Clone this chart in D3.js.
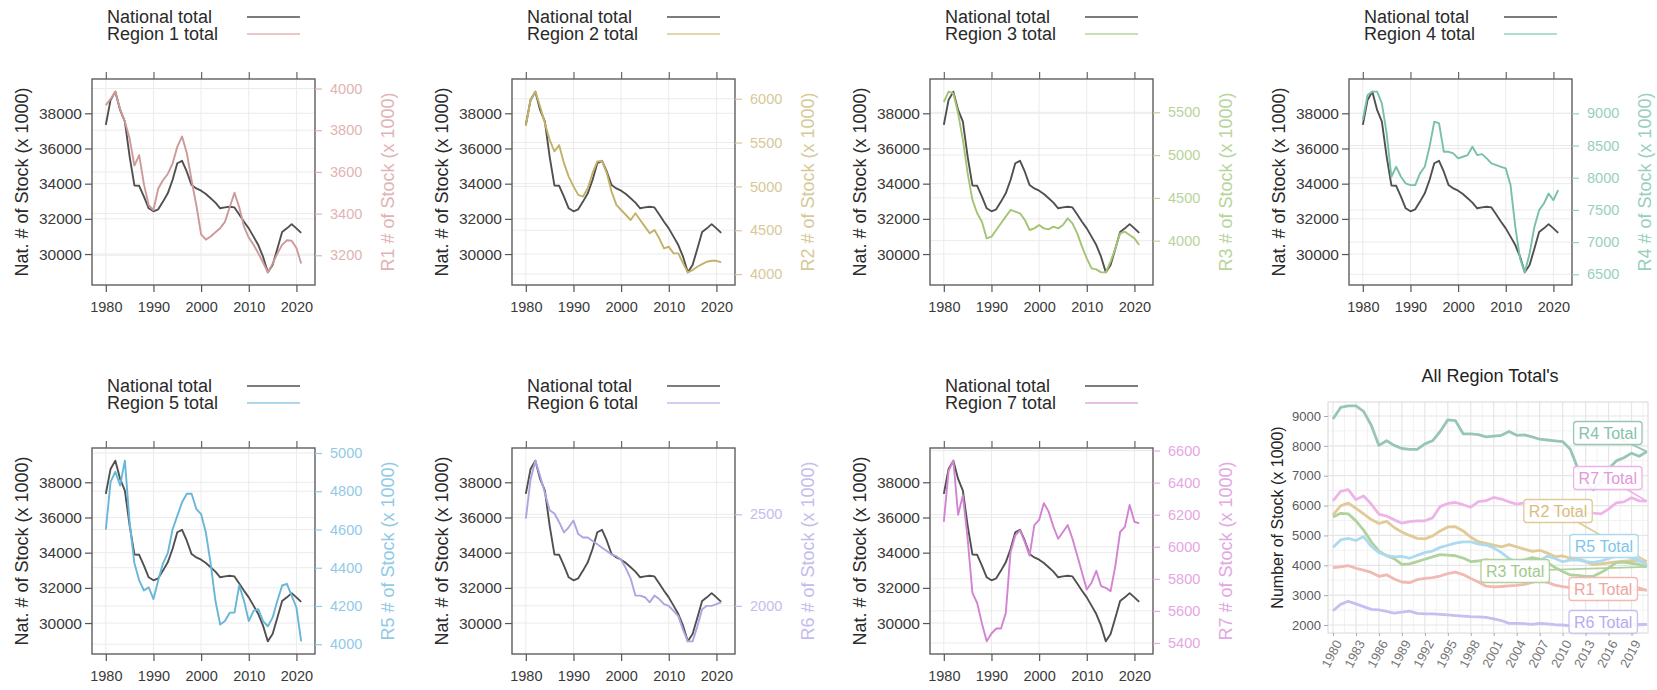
<!DOCTYPE html>
<html>
<head>
<meta charset="utf-8">
<script src="https://cdn.jsdelivr.net/npm/d3@7"></script>
<style>
  body { margin: 0; background: #fff; }
  svg { display: block; font-family: "Liberation Sans", Arial, Helvetica, sans-serif; }
  svg text { font-family: "Liberation Sans", Arial, Helvetica, sans-serif; }
</style>
</head>
<body>
<svg id="chart" width="1657" height="690"></svg>
<script>
// ---- data: stock counts (x 1000), yearly 1980-2021 ----
const years = [1980,1981,1982,1983,1984,1985,1986,1987,1988,1989,
               1990,1991,1992,1993,1994,1995,1996,1997,1998,1999,
               2000,2001,2002,2003,2004,2005,2006,2007,2008,2009,
               2010,2011,2012,2013,2014,2015,2016,2017,2018,2019,
               2020,2021];

const national = [37340,38760,39230,38190,37530,35540,33900,33880,33260,32600,
                  32430,32540,32980,33450,34210,35160,35300,34680,33920,33730,
                  33600,33410,33170,32920,32600,32650,32690,32650,32250,31840,
                  31460,30990,30510,29850,28960,29380,30300,31250,31460,31700,
                  31460,31200];

const region1 = [3920,3950,3985,3900,3840,3760,3630,3680,3540,3440,
                 3417,3520,3560,3590,3640,3720,3770,3690,3560,3440,
                 3300,3275,3290,3310,3330,3360,3430,3500,3430,3337,
                 3285,3250,3210,3165,3118,3160,3208,3250,3272,3270,
                 3235,3160];
const region2 = [5690,5990,6080,5910,5720,5530,5400,5470,5265,5112,
                 5000,4903,4884,4979,5150,5284,5291,5150,4941,4789,
                 4731,4674,4617,4693,4617,4541,4465,4503,4408,4293,
                 4312,4236,4236,4122,4020,4046,4084,4114,4141,4152,
                 4152,4133];
const region3 = [5620,5741,5722,5488,5177,4787,4476,4320,4222,4027,
                 4047,4125,4203,4281,4359,4339,4320,4242,4125,4144,
                 4183,4144,4132,4164,4144,4183,4261,4203,4086,3930,
                 3794,3677,3665,3630,3630,3755,3910,4086,4105,4066,
                 4027,3949];
const region4 = [8900,9285,9337,9337,9156,8689,8015,8170,8015,7911,
                 7885,7885,8067,8170,8481,8870,8844,8403,8403,8378,
                 8300,8326,8352,8481,8352,8367,8300,8222,8196,8170,
                 8144,7885,7236,6744,6530,6822,7236,7496,7600,7755,
                 7651,7807];
const region5 = [4600,4849,4902,4830,4960,4636,4423,4334,4281,4298,
                 4236,4334,4423,4476,4600,4671,4742,4787,4787,4707,
                 4680,4583,4423,4227,4103,4121,4165,4165,4307,4227,
                 4121,4174,4183,4121,4094,4139,4227,4307,4316,4254,
                 4192,4015];
const region6 = [2476,2690,2793,2709,2616,2522,2504,2457,2401,2429,
                 2466,2392,2373,2373,2354,2336,2317,2299,2280,2271,
                 2252,2205,2149,2056,2056,2047,2019,2056,2037,2009,
                 2000,1972,1944,1869,1806,1806,1888,1981,2000,2000,
                 2009,2019];
const region7 = [6156,6473,6537,6200,6320,6050,5712,5649,5522,5410,
                 5459,5490,5490,5586,5966,6071,6103,6029,5945,6135,
                 6167,6272,6219,6124,6050,6092,6135,6050,5945,5839,
                 5733,5776,5850,5755,5744,5723,5881,6092,6124,6261,
                 6156,6146];

const regions = [region1, region2, region3, region4, region5, region6, region7];

// ---- labels and tick values ----
const legendNational = "National total";
const legendRegion = ["Region 1 total","Region 2 total","Region 3 total","Region 4 total",
                      "Region 5 total","Region 6 total","Region 7 total"];
const leftTitle = "Nat. # of Stock (x 1000)";
const rightTitles = ["R1 # of Stock (x 1000)","R2 # of Stock (x 1000)","R3 # of Stock (x 1000)",
                     "R4 # of Stock (x 1000)","R5 # of Stock (x 1000)","R6 # of Stock (x 1000)",
                     "R7 # of Stock (x 1000)"];
const natTicks = [30000, 32000, 34000, 36000, 38000];
const yearTicks = [1980, 1990, 2000, 2010, 2020];
const regionTicks = [
  [3200, 3400, 3600, 3800, 4000],
  [4000, 4500, 5000, 5500, 6000],
  [4000, 4500, 5000, 5500],
  [6500, 7000, 7500, 8000, 8500, 9000],
  [4000, 4200, 4400, 4600, 4800, 5000],
  [2000, 2500],
  [5400, 5600, 5800, 6000, 6200, 6400, 6600]
];

const summaryTitle = "All Region Total's";
const summaryYTitle = "Number of Stock (x 1000)";
const summaryLabels = ["R1 Total","R2 Total","R3 Total","R4 Total","R5 Total","R6 Total","R7 Total"];
const summaryYTicks = [2000, 3000, 4000, 5000, 6000, 7000, 8000, 9000];
const summaryYearBreaks = [1980,1983,1986,1989,1992,1995,1998,2001,2004,2007,2010,2013,2016,2019];
// label anchors (year, value) for the direct labels on the summary panel
const labelYear  = [2015.3, 2009.4, 2003.8, 2015.9, 2015.4, 2015.3, 2015.9];
const labelValue = [3206,   5818,   3809,   8431,   4646,   2101,   6924];

// ---- colours ----
const nationalColor = "#505050";
const regionLine = ["#cc9a9a","#c2b268","#a4c474","#78c0a8","#68b6d8","#aca6e0","#d283d2"];
const regionText = ["#e0b4b4","#d6c998","#b8d49a","#98d0bd","#92cae6","#c3bdee","#e2a8e2"];
const summaryLine = ["#f2b8b2","#e0cb98","#b0d29c","#98c6b4","#addaee","#c7bff2","#eeb4e8"];
const summaryText = ["#eaa8a2","#d8bc80","#a2c98c","#86c2ac","#7ec6ea","#b6adf0","#e398da"];
const gridColor = "#ebebeb";

const svg = d3.select("#chart");

// ---- layout ----
const colX = [92, 512, 930, 1349];
const rowY = [79, 448];
const W = 223, H = 206;
const xDomain = [1977.1, 2023.9];

function padded(arr) {
  const [lo, hi] = d3.extent(arr);
  const p = (hi - lo) * 0.07;
  return [lo - p, hi + p];
}

const FONT = "'Liberation Sans', Arial, Helvetica, sans-serif";

// ---- seven dual-axis panels ----
regions.forEach((vals, i) => {
  const g = svg.append("g")
    .attr("transform", `translate(${colX[i % 4]},${rowY[Math.floor(i / 4)]})`);

  const x = d3.scaleLinear().domain(xDomain).range([0, W]);
  const yL = d3.scaleLinear().domain(padded(national)).range([H, 0]);
  const yR = d3.scaleLinear().domain(padded(vals)).range([H, 0]);

  // grid
  const grid = g.append("g").attr("stroke", gridColor).attr("stroke-width", 1);
  grid.selectAll(".gv").data(yearTicks).join("line")
    .attr("x1", d => x(d)).attr("x2", d => x(d)).attr("y1", 0).attr("y2", H);
  grid.selectAll(".gl").data(natTicks).join("line")
    .attr("x1", 0).attr("x2", W).attr("y1", d => yL(d)).attr("y2", d => yL(d));
  grid.selectAll(".gr").data(regionTicks[i]).join("line")
    .attr("x1", 0).attr("x2", W).attr("y1", d => yR(d)).attr("y2", d => yR(d));

  // series
  const lineL = d3.line().x((d, j) => x(years[j])).y(d => yL(d));
  const lineR = d3.line().x((d, j) => x(years[j])).y(d => yR(d));
  g.append("path").datum(national).attr("d", lineL)
    .attr("fill", "none").attr("stroke", nationalColor).attr("stroke-width", 1.9)
    .attr("stroke-linejoin", "round");
  g.append("path").datum(vals).attr("d", lineR)
    .attr("fill", "none").attr("stroke", regionLine[i]).attr("stroke-width", 1.9)
    .attr("stroke-linejoin", "round");

  // frame
  g.append("rect").attr("width", W).attr("height", H)
    .attr("fill", "none").attr("stroke", "#5e5e5e").attr("stroke-width", 1.4);

  // axes
  const ax = (sel, col, tcol, size) => {
    sel.select(".domain").remove();
    sel.attr("font-family", FONT);
    sel.selectAll(".tick line").attr("stroke", col).attr("stroke-width", 1.2);
    sel.selectAll(".tick text").attr("fill", tcol).style("font-size", size + "px")
      .style("font-family", FONT);
  };
  g.append("g")
    .call(d3.axisLeft(yL).tickValues(natTicks).tickSize(7).tickPadding(3).tickFormat(d3.format("d")))
    .call(s => ax(s, "#555", "#3a3a3a", 15.5));
  g.append("g").attr("transform", `translate(0,${H})`)
    .call(d3.axisBottom(x).tickValues(yearTicks).tickSize(7).tickPadding(10).tickFormat(d3.format("d")))
    .call(s => ax(s, "#555", "#3a3a3a", 14.5));
  g.append("g")
    .call(d3.axisTop(x).tickValues(yearTicks).tickSize(7).tickFormat(""))
    .call(s => ax(s, "#666", "#666", 14));
  g.append("g").attr("transform", `translate(${W},0)`)
    .call(d3.axisRight(yR).tickValues(regionTicks[i]).tickSize(7).tickPadding(8).tickFormat(d3.format("d")))
    .call(s => ax(s, regionText[i], regionText[i], 14.5));

  // axis titles
  g.append("text").attr("transform", `translate(-70,${H / 2}) rotate(-90)`)
    .attr("text-anchor", "middle").attr("dy", "0.35em").attr("font-family", FONT)
    .style("font-size", "18px").attr("fill", "#2a2a2a").text(leftTitle);
  g.append("text").attr("transform", `translate(${W + 73},${H / 2}) rotate(-90)`)
    .attr("text-anchor", "middle").attr("dy", "0.35em").attr("font-family", FONT)
    .style("font-size", "18px").attr("fill", regionText[i]).text(rightTitles[i]);

  // legend
  const leg = g.append("g").attr("font-family", FONT);
  leg.append("text").attr("x", 15).attr("y", -62).attr("dy", "0.35em")
    .style("font-size", "18px").attr("fill", "#2a2a2a").text(legendNational);
  leg.append("text").attr("x", 15).attr("y", -45).attr("dy", "0.35em")
    .style("font-size", "18px").attr("fill", "#2a2a2a").text(legendRegion[i]);
  leg.append("line").attr("x1", 155).attr("x2", 208).attr("y1", -62).attr("y2", -62)
    .attr("stroke", nationalColor).attr("stroke-width", 1.6);
  leg.append("line").attr("x1", 155).attr("x2", 208).attr("y1", -45).attr("y2", -45)
    .attr("stroke", regionText[i]).attr("stroke-width", 1.6);
});

// ---- summary panel: all region totals ----
(function () {
  const L = 1328, R = 1648, T = 402, B = 633;
  const x = d3.scaleLinear().domain([1979.35, 2021.15]).range([L, R]);
  const y = d3.scaleLinear().domain([1732, 9469]).range([B, T]);
  const g = svg.append("g").attr("font-family", FONT);

  // minor + major grid
  const minorX = summaryYearBreaks.map(d => d + 1.5).filter(d => d < 2021.15);
  const minorY = summaryYTicks.map(d => d + 500).filter(d => d < 9469);
  g.append("g").selectAll("line").data(minorX).join("line")
    .attr("x1", d => x(d)).attr("x2", d => x(d)).attr("y1", T).attr("y2", B)
    .attr("stroke", "#f2f2f2").attr("stroke-width", 1);
  g.append("g").selectAll("line").data(minorY).join("line")
    .attr("x1", L).attr("x2", R).attr("y1", d => y(d)).attr("y2", d => y(d))
    .attr("stroke", "#f2f2f2").attr("stroke-width", 1);
  g.append("g").selectAll("line").data(summaryYearBreaks).join("line")
    .attr("x1", d => x(d)).attr("x2", d => x(d)).attr("y1", T).attr("y2", B)
    .attr("stroke", "#e6e6e6").attr("stroke-width", 1.2);
  g.append("g").selectAll("line").data(summaryYTicks).join("line")
    .attr("x1", L).attr("x2", R).attr("y1", d => y(d)).attr("y2", d => y(d))
    .attr("stroke", "#e6e6e6").attr("stroke-width", 1.2);

  // series
  const line = d3.line().x((d, j) => x(years[j])).y(d => y(d));
  regions.forEach((vals, i) => {
    g.append("path").datum(vals).attr("d", line)
      .attr("fill", "none").attr("stroke", summaryLine[i]).attr("stroke-width", 2.8)
      .attr("stroke-linejoin", "round");
  });

  // label leaders then labels
  regions.forEach((vals, i) => {
    g.append("line")
      .attr("x1", x(labelYear[i])).attr("y1", y(labelValue[i]))
      .attr("x2", x(years[years.length - 1])).attr("y2", y(vals[vals.length - 1]))
      .attr("stroke", summaryLine[i]).attr("stroke-width", 1.8);
  });
  regions.forEach((vals, i) => {
    const cx = x(labelYear[i]), cy = y(labelValue[i]);
    const lg = g.append("g");
    const t = lg.append("text").attr("x", cx).attr("y", cy).attr("dy", "0.36em")
      .attr("text-anchor", "middle").style("font-size", "16px")
      .attr("fill", summaryText[i]).text(summaryLabels[i]);
    const bb = t.node().getBBox();
    lg.insert("rect", "text")
      .attr("x", bb.x - 5).attr("y", cy - 11.5).attr("width", bb.width + 10).attr("height", 23)
      .attr("rx", 3).attr("fill", "#fff").attr("fill-opacity", 0.9)
      .attr("stroke", summaryLine[i]).attr("stroke-width", 1.3);
  });

  // frame
  g.append("rect").attr("x", L).attr("y", T).attr("width", R - L).attr("height", B - T)
    .attr("fill", "none").attr("stroke", "#d8d8d8").attr("stroke-width", 1);

  // axes
  const yAxis = g.append("g").attr("transform", `translate(${L},0)`)
    .call(d3.axisLeft(y).tickValues(summaryYTicks).tickSize(4).tickPadding(3).tickFormat(d3.format("d")));
  yAxis.select(".domain").remove();
  yAxis.selectAll(".tick line").attr("stroke", "#aaa");
  yAxis.selectAll(".tick text").attr("fill", "#5a5a5a").style("font-size", "13px")
    .style("font-family", FONT);

  const xAxis = g.append("g").attr("transform", `translate(0,${B})`)
    .call(d3.axisBottom(x).tickValues(summaryYearBreaks).tickSize(3).tickFormat(d3.format("d")));
  xAxis.select(".domain").remove();
  xAxis.selectAll(".tick line").attr("stroke", "#aaa");
  xAxis.selectAll(".tick text")
    .attr("fill", "#777").style("font-size", "13px").style("font-family", FONT)
    .attr("text-anchor", "end").attr("dy", "0.35em")
    .attr("transform", "translate(5,8) rotate(-62)").attr("y", 0).attr("x", 0);

  // titles
  svg.append("text").attr("x", 1490).attr("y", 376).attr("dy", "0.35em")
    .attr("text-anchor", "middle").attr("font-family", FONT)
    .style("font-size", "18px").attr("fill", "#222").text(summaryTitle);
  svg.append("text").attr("transform", `translate(1277,${(T + B) / 2}) rotate(-90)`)
    .attr("text-anchor", "middle").attr("dy", "0.35em").attr("font-family", FONT)
    .style("font-size", "16px").attr("fill", "#222").text(summaryYTitle);
})();
</script>
</body>
</html>
